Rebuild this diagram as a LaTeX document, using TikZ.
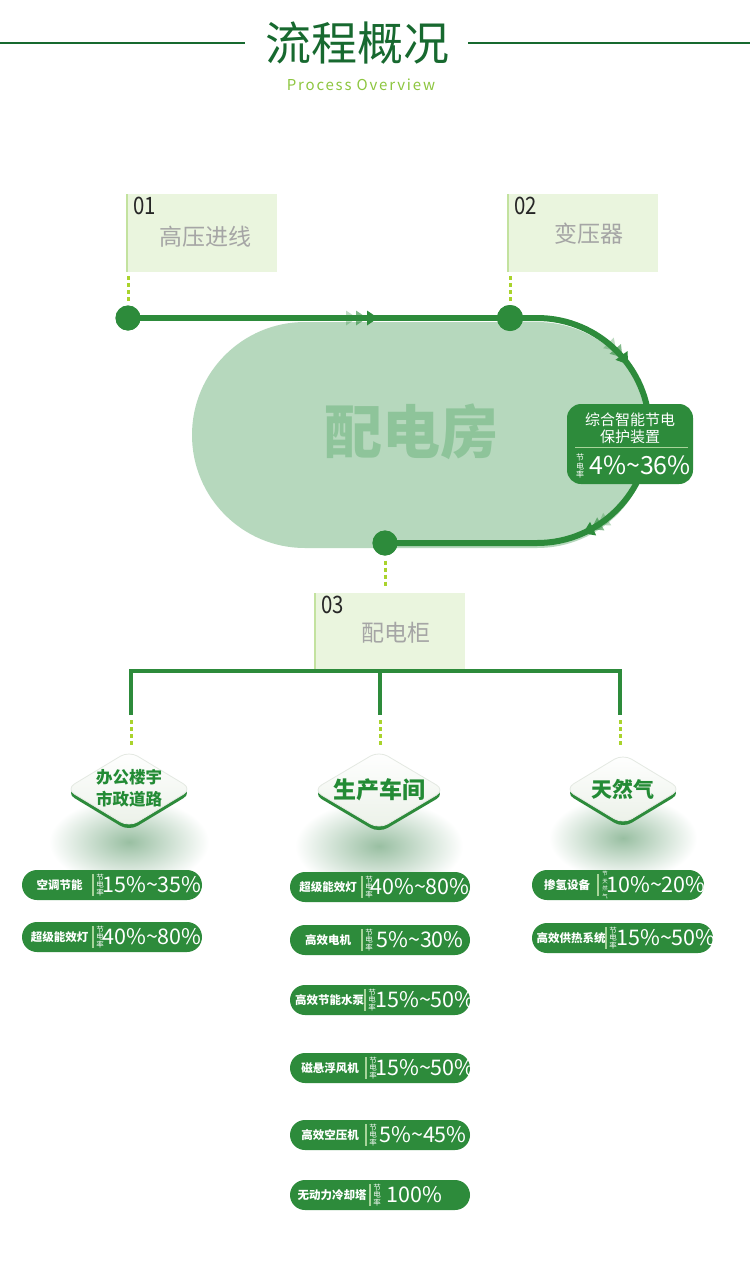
\documentclass[tikz,border=0pt]{standalone}
\usepackage{fontspec}
\setmainfont{Noto Sans CJK SC}
\usetikzlibrary{decorations.markings,calc}
\definecolor{gdark}{HTML}{17692F}
\definecolor{gmain}{HTML}{2D8B3B}
\definecolor{gyel}{HTML}{8DC63F}
\definecolor{ovalc}{HTML}{B6D8BD}
\definecolor{ovaltext}{HTML}{8EC49A}
\definecolor{boxfill}{HTML}{EAF5DE}
\definecolor{boxedge}{HTML}{C3E29F}
\definecolor{dotc}{HTML}{A9D32C}
\definecolor{graytext}{HTML}{A5A5A5}
\definecolor{sepc}{HTML}{A8D49A}
\definecolor{shc}{HTML}{99BFA2}
\definecolor{dmdbot}{HTML}{EBF1E8}
\definecolor{dmdedge}{HTML}{E4E9E2}
\definecolor{dmdtext}{HTML}{238B35}
\newcommand\fs[1]{\fontsize{#1}{#1}\selectfont}
\tikzset{
  every node/.style={inner sep=0pt, outer sep=0pt},
  stepbox/.style={fill=boxfill, minimum width=150, minimum height=78, anchor=north west},
  boxedgeline/.style={boxedge, line width=2.5},
  numtext/.style={anchor=north west, text=black!85, font=\fs{24}},
  boxlab/.style={text=graytext, font=\fs{23}},
  flowline/.style={gmain, line width=6},
  dotsty/.style={dotc, line width=3, dash pattern=on 4 off 3},
  dotnode/.style={circle, fill=gmain, minimum size=25},
  barline/.style={gmain, line width=4, line join=miter},
  pillbox/.style={fill=gmain, rounded corners=15, minimum height=30, anchor=west},
  pilllab/.style={text=white, font=\bfseries\fs{11.5}},
  pillsmall/.style={text=white, font=\fontsize{7.5}{7.8}\selectfont, align=center},
  pillpct/.style={text=white, font=\fs{21.5}},
  pillsep/.style={sepc, line width=1.2},
  dmdlab/.style={text=dmdtext, font=\bfseries\fs{17}, align=center},
  tri/.style={gmain}
}
\newcommand\pill[9]{%
  \node[pillbox, minimum width=#4] (#1) at (#2,#3) {};
  \node[pilllab] (#1l) at ({(#2+#5)/2+2},#3) {#6};
  \coordinate (#1a) at (#5,{#3-11});
  \coordinate (#1b) at (#5,{#3+11});
  \draw[pillsep] (#1a) -- (#1b);
  \node[pillsmall] (#1s) at ({#5+7},#3) {#7};
  \node[pillpct] (#1p) at (#8,#3) {#9};
}
\newcommand\dmd[5]{%
  \path[#5] ({#1-#3/2},{#2-#4/2}) -- ({#1},{#2-#4}) -- ({#1+#3},{#2}) -- ({#1},{#2+#4}) -- ({#1-#3},{#2}) -- cycle;
}
\begin{document}
\begin{tikzpicture}[x=1pt,y=-1pt]
\useasboundingbox (0,0) rectangle (750,1282);
\fill[white] (0,0) rectangle (750,1282);

% header
\node[text=gdark, font=\fs{46}] (title) at (357,43) {流程概况};
\node[text=gyel, font=\fs{15}\addfontfeature{LetterSpace=12}] (subtitle) at (361,85) {Process Overview};
\coordinate (hl1) at (0,43); \coordinate (hl2) at (245,43);
\coordinate (hr1) at (468,43); \coordinate (hr2) at (750,43);
\draw[gdark, line width=2.5] (hl1) -- (hl2);
\draw[gdark, line width=2.5] (hr1) -- (hr2);

% oval
\node[fill=ovalc, rounded corners=112.9, minimum width=458, minimum height=226] (room) at (421,435) {};
\node[text=ovaltext, font=\bfseries\fs{58}] (roomtext) at (411,432) {配电房};

% boxes 01, 02
\node[stepbox] (b1) at (127,194) {};
\draw[boxedgeline] (b1.north west) -- (b1.south west);
\node[numtext] (n1) at (133,197) {\scalebox{0.85}[1]{01}};
\node[boxlab] (l1) at (205,237) {高压进线};
\node[stepbox] (b2) at (508,194) {};
\draw[boxedgeline] (b2.north west) -- (b2.south west);
\node[numtext] (n2) at (514,197) {\scalebox{0.85}[1]{02}};
\node[boxlab] (l2) at (589,234) {变压器};

% dots
\node[dotnode] (d1) at (128,318) {};
\node[dotnode, minimum size=26] (d2) at (510,318) {};
\node[dotnode] (d3) at (385,543) {};

\draw[dotsty] ($(d1|-b1.south)+(0,4)$) -- ($(d1.north)+(0,-2)$);
\draw[dotsty] ($(d2|-b2.south)+(0,4)$) -- ($(d2.north)+(0,-2)$);

% flow lines
\draw[flowline, postaction={decorate}, decoration={markings,
   mark=at position 229pt with {\fill[tri, opacity=.3] (-11,-7.5) -- (0,0) -- (-11,7.5) -- cycle;},
   mark=at position 239pt with {\fill[tri, opacity=.6] (-11,-7.5) -- (0,0) -- (-11,7.5) -- cycle;},
   mark=at position 250pt with {\fill[tri] (-11,-7.5) -- (0,0) -- (-11,7.5) -- cycle;}}]
   (d1.center) -- (d2.center);
\coordinate (c1) at (537,318);
\draw[flowline, postaction={decorate}, decoration={markings,
   mark=at position 115pt with {\fill[tri, opacity=.3] (-11,-7.5) -- (0,0) -- (-11,7.5) -- cycle;},
   mark=at position 124pt with {\fill[tri, opacity=.6] (-11,-7.5) -- (0,0) -- (-11,7.5) -- cycle;},
   mark=at position 133pt with {\fill[tri] (-11,-7.5) -- (0,0) -- (-11,7.5) -- cycle;},
   mark=at position 316pt with {\fill[tri, opacity=.3] (-11,-7.5) -- (0,0) -- (-11,7.5) -- cycle;},
   mark=at position 324pt with {\fill[tri, opacity=.6] (-11,-7.5) -- (0,0) -- (-11,7.5) -- cycle;},
   mark=at position 333pt with {\fill[tri] (-11,-7.5) -- (0,0) -- (-11,7.5) -- cycle;}}]
   (d2.center) -- (c1) arc[start angle=-90, end angle=90, radius=112.5] -- (d3.center);
\node[dotnode] at (d1) {};
\node[dotnode, minimum size=26] at (d2) {};
\node[dotnode] at (d3) {};

% badge
\node[fill=gmain, rounded corners=14, minimum width=126, minimum height=80, anchor=north west] (badge) at (567,404) {};
\node[text=white, font=\fs{15}] (bt1) at (630,420) {综合智能节电};
\node[text=white, font=\fs{15}] (bt2) at (630,437) {保护装置};
\coordinate (bs1) at (575,447); \coordinate (bs2) at (688,447);
\draw[sepc, line width=1] (bs1) -- (bs2);
\node[pillsmall, font=\fontsize{8}{8.8}\selectfont] (bt3) at (580,466) {节\\电\\率};
\node[text=white, font=\fs{25}] (bt4) at (640,465) {4\%\textasciitilde36\%};

% box 03
\node[stepbox] (b3) at (315,593) {};
\draw[boxedgeline] (b3.north west) -- (b3.south west);
\node[numtext] (n3) at (321,596) {\scalebox{0.85}[1]{03}};
\node[boxlab] (l3) at (396,633) {配电柜};
\draw[dotsty] ($(d3.south)+(0,5)$) -- ($(d3|-b3.north)+(0,-5)$);

% tree
\coordinate (tl) at (131,671); \coordinate (tm) at (380,671); \coordinate (tr) at (620,671);
\coordinate (vl) at (131,715); \coordinate (vm) at (380,715); \coordinate (vr) at (620,715);
\coordinate (kl) at (131,746); \coordinate (km) at (380,746); \coordinate (kr) at (620,746);
\draw[barline] (vl) -- (tl) -- (tr) -- (vr);
\draw[barline] (tm) -- (vm);
\draw[dotsty] ($(vl)+(0,5)$) -- (kl);
\draw[dotsty] ($(vm)+(0,5)$) -- (km);
\draw[dotsty] ($(vr)+(0,5)$) -- (kr);

% shadows
\shade[inner color=shc, outer color=white] (129,842) ellipse [x radius=80, y radius=44];
\shade[inner color=shc, outer color=white] (379,846) ellipse [x radius=84, y radius=46];
\shade[inner color=shc, outer color=white] (623,838) ellipse [x radius=74, y radius=42];

% diamonds
\dmd{129}{793}{63}{38}{fill=gmain, rounded corners=10}
\dmd{129}{789}{63}{38}{top color=white, bottom color=dmdbot, draw=dmdedge, line width=0.8, rounded corners=10}
\dmd{379}{794}{66}{39}{fill=gmain, rounded corners=10}
\dmd{379}{790}{66}{39}{top color=white, bottom color=dmdbot, draw=dmdedge, line width=0.8, rounded corners=10}
\dmd{623}{793}{58}{35}{fill=gmain, rounded corners=10}
\dmd{623}{789}{58}{35}{top color=white, bottom color=dmdbot, draw=dmdedge, line width=0.8, rounded corners=10}
\node[dmdlab, font=\bfseries\fontsize{16.5}{22}\selectfont] (cat1) at (129,788) {办公楼宇\\市政道路};
\node[dmdlab, font=\bfseries\fs{23}] (cat2) at (379,790) {生产车间};
\node[dmdlab, font=\bfseries\fs{21}] (cat3) at (623,789) {天然气};

% pills
\pill{p1}{22}{885}{180}{93}{空调节能}{节\\电\\率}{152}{15\%\textasciitilde35\%}
\pill{p2}{22}{937}{180}{93}{超级能效灯}{节\\电\\率}{152}{40\%\textasciitilde80\%}
\pill{m1}{290}{887}{180}{362}{超级能效灯}{节\\电\\率}{420}{40\%\textasciitilde80\%}
\pill{m2}{290}{940}{180}{362}{高效电机}{节\\电\\率}{420}{5\%\textasciitilde30\%}
\pill{m3}{290}{1000}{180}{365}{高效节能水泵}{节\\电\\率}{425}{15\%\textasciitilde50\%}
\pill{m4}{290}{1068}{180}{366}{磁悬浮风机}{节\\电\\率}{425}{15\%\textasciitilde50\%}
\pill{m5}{290}{1135}{180}{366}{高效空压机}{节\\电\\率}{423}{5\%\textasciitilde45\%}
\pill{m6}{290}{1195}{180}{370}{无动力冷却塔}{节\\电\\率}{414}{100\%}
\pill{r1}{532}{885}{172}{598}{掺氢设备}{\fontsize{5.4}{6.9}\selectfont 节\\\fontsize{5.4}{6.9}\selectfont 天\\\fontsize{5.4}{6.9}\selectfont 然\\\fontsize{5.4}{6.9}\selectfont 气}{656}{10\%\textasciitilde20\%}
\pill{r2}{532}{938}{181}{606}{高效供热系统}{节\\电\\率}{666}{15\%\textasciitilde50\%}
\end{tikzpicture}
\end{document}
